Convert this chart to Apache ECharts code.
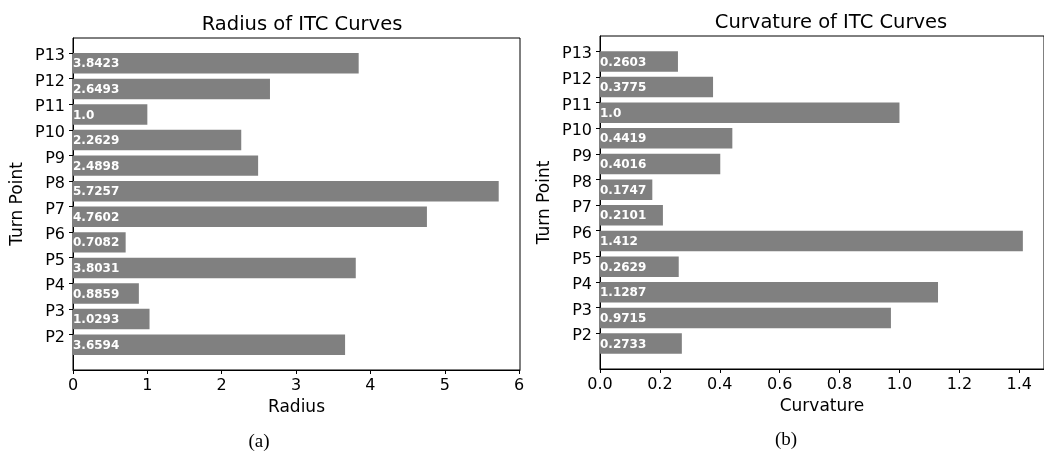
<!DOCTYPE html>
<html>
<head>
<meta charset="utf-8">
<script src="https://cdn.jsdelivr.net/npm/echarts@6/dist/echarts.min.js"></script>
<style>
  html, body { margin: 0; padding: 0; background: #fff; }
  #chart { width: 1044px; height: 451px; }
</style>
</head>
<body>
<div id="chart"></div>
<script>
// Turn points and per-point measurements
const turnPoints = ['P2', 'P3', 'P4', 'P5', 'P6', 'P7', 'P8', 'P9', 'P10', 'P11', 'P12', 'P13'];
const radiusValues = [3.6594, 1.0293, 0.8859, 3.8031, 0.7082, 4.7602, 5.7257, 2.4898, 2.2629, 1.0, 2.6493, 3.8423];
const curvatureValues = [0.2733, 0.9715, 1.1287, 0.2629, 1.412, 0.2101, 0.1747, 0.4016, 0.4419, 1.0, 0.3775, 0.2603];
const radiusTicks = [0, 1, 2, 3, 4, 5, 6];
const curvatureTicks = [0, 0.2, 0.4, 0.6, 0.8, 1.0, 1.2, 1.4];

const FONT = 'DejaVu Sans';
const BAR_H = 0.8;          // bar thickness in y units, drawn downward from each tick
const MARGIN = 0.05;        // axis padding as a fraction of the data span

function valueLabel(v) {
  return Number.isInteger(v) ? v.toFixed(1) : String(v);
}

const idx = turnPoints.map((_, i) => i);
const yMin = -BAR_H - MARGIN * (idx.length - 1 + BAR_H);
const yMax = (idx.length - 1) + MARGIN * (idx.length - 1 + BAR_H);

function xMax(values) {
  return Math.max(...values) * (1 + MARGIN);
}

function barRender(params, api) {
  const v = api.value(0);
  const y = api.value(1);
  const p0 = api.coord([0, y]);
  const p1 = api.coord([v, y - BAR_H]);
  const top = p0[1], bottom = p1[1];
  return {
    type: 'group',
    children: [
      {
        type: 'rect',
        shape: { x: p0[0], y: top, width: p1[0] - p0[0], height: bottom - top },
        style: { fill: '#808080' }
      },
      {
        type: 'text',
        x: p0[0],
        y: (top + bottom) / 2 + 1,
        style: {
          text: valueLabel(v),
          fill: '#ffffff',
          font: 'bold 12px "' + FONT + '"',
          verticalAlign: 'middle',
          align: 'left'
        }
      }
    ]
  };
}

function yAxisCfg(gridIndex) {
  return {
    type: 'value',
    gridIndex,
    min: yMin,
    max: yMax,
    name: 'Turn Point',
    nameLocation: 'middle',
    nameGap: 47,
    nameTextStyle: { fontFamily: FONT, fontSize: 17, color: '#000' },
    axisLine: { show: true, onZero: false, lineStyle: { color: '#000', width: 1 } },
    axisTick: { show: true, length: 4, lineStyle: { color: '#000' }, customValues: idx },
    axisLabel: {
      customValues: idx,
      formatter: v => '{p|' + turnPoints[Math.round(v)] + '}',
      margin: 8,
      rich: {
        p: { fontFamily: FONT, fontSize: 16, color: '#000', padding: [6, 0, 0, 0] }
      }
    },
    splitLine: { show: false }
  };
}

function xAxisCfg(gridIndex, name, ticks, max, digits) {
  return {
    type: 'value',
    gridIndex,
    min: 0,
    max,
    name,
    nameLocation: 'middle',
    nameGap: 29,
    nameTextStyle: { fontFamily: FONT, fontSize: 17, color: '#000' },
    axisLine: { show: true, onZero: false, lineStyle: { color: '#000', width: 1 } },
    axisTick: { show: true, length: 4, lineStyle: { color: '#000' }, customValues: ticks },
    axisLabel: {
      customValues: ticks,
      formatter: v => v.toFixed(digits),
      fontFamily: FONT, fontSize: 16, color: '#000', margin: 8
    },
    splitLine: { show: false }
  };
}

const chart = echarts.init(document.getElementById('chart'), null, { renderer: 'canvas' });

chart.setOption({
  animation: false,
  backgroundColor: '#fff',
  title: [
    { text: 'Radius of ITC Curves', left: 297, top: 10, textAlign: 'center',
      textStyle: { fontFamily: FONT, fontSize: 19.5, fontWeight: 'normal', color: '#000' } },
    { text: 'Curvature of ITC Curves', left: 826, top: 8, textAlign: 'center',
      textStyle: { fontFamily: FONT, fontSize: 19.5, fontWeight: 'normal', color: '#000' } }
  ],
  grid: [
    { left: 73, top: 38, width: 447, height: 332, show: true, borderColor: '#000', borderWidth: 1, backgroundColor: 'transparent' },
    { left: 600, top: 36, width: 452, height: 333, show: true, borderColor: '#000', borderWidth: 1, backgroundColor: 'transparent' }
  ],
  xAxis: [
    xAxisCfg(0, 'Radius', radiusTicks, xMax(radiusValues), 0),
    xAxisCfg(1, 'Curvature', curvatureTicks, xMax(curvatureValues), 1)
  ],
  yAxis: [yAxisCfg(0), yAxisCfg(1)],
  series: [
    {
      type: 'custom', xAxisIndex: 0, yAxisIndex: 0,
      renderItem: barRender,
      encode: { x: 0, y: 1 },
      data: radiusValues.map((v, i) => [v, i])
    },
    {
      type: 'custom', xAxisIndex: 1, yAxisIndex: 1,
      renderItem: barRender,
      encode: { x: 0, y: 1 },
      data: curvatureValues.map((v, i) => [v, i])
    }
  ],
  graphic: [
    { type: 'text', x: 259, y: 442, style: { text: '(a)', font: '19px "Liberation Serif"', fill: '#000', align: 'center', verticalAlign: 'middle' } },
    { type: 'text', x: 786, y: 440, style: { text: '(b)', font: '19px "Liberation Serif"', fill: '#000', align: 'center', verticalAlign: 'middle' } }
  ]
});
</script>
</body>
</html>
